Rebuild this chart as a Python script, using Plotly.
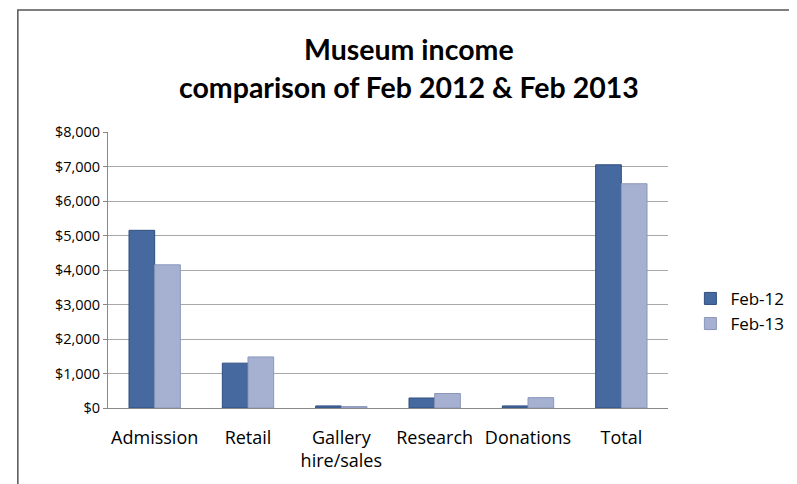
import plotly.graph_objects as go

categories = ["Admission", "Retail", "Gallery<br>hire/sales", "Research", "Donations", "Total"]
feb12 = [5150, 1300, 60, 290, 60, 7050]
feb13 = [4150, 1480, 40, 420, 300, 6500]
tick_vals = [0, 1000, 2000, 3000, 4000, 5000, 6000, 7000, 8000]
tick_text = ["$0", "$1,000", "$2,000", "$3,000", "$4,000", "$5,000", "$6,000", "$7,000", "$8,000"]
title_lines = ["Museum income", "comparison of Feb 2012 & Feb 2013"]

FONT = "Lato, Open Sans, sans-serif"

fig = go.Figure()
fig.add_trace(go.Bar(name="Feb-12", x=categories, y=feb12,
                     marker=dict(color="#46699f", line=dict(color="#2f4f80", width=1))))
fig.add_trace(go.Bar(name="Feb-13", x=categories, y=feb13,
                     marker=dict(color="#a6b1d2", line=dict(color="#8a96bb", width=1))))

fig.update_layout(
    width=797, height=484,
    paper_bgcolor="white", plot_bgcolor="white",
    margin=dict(l=100, r=137, t=124, b=84),
    barmode="group", bargap=0.45, bargroupgap=0.0,
    font=dict(family=FONT, size=15, color="#000000"),
    legend=dict(x=1.04, y=0.35, xanchor="left", yanchor="middle",
                font=dict(family="Open Sans, sans-serif", size=17, color="#000000"),
                itemwidth=30, tracegroupgap=0),
    showlegend=True,
)
fig.add_annotation(text="<b>%s</b>" % title_lines[0], xref="paper", yref="paper",
                   x=0.538, y=1.30, xanchor="center", yanchor="middle", showarrow=False,
                   font=dict(family=FONT, size=28.5, color="#000000"))
fig.add_annotation(text="<b>%s</b>" % title_lines[1], xref="paper", yref="paper",
                   x=0.538, y=1.162, xanchor="center", yanchor="middle", showarrow=False,
                   font=dict(family=FONT, size=28.5, color="#000000"))

fig.update_yaxes(range=[0, 8000], tickvals=tick_vals, ticktext=tick_text,
                 showgrid=True, gridcolor="#a8a8a8", gridwidth=1,
                 showline=True, linecolor="#888888", ticks="outside", ticklen=4,
                 tickcolor="#888888", zeroline=False,
                 tickfont=dict(family="Open Sans, sans-serif", size=14.5, color="#000000"))
fig.update_xaxes(showline=True, linecolor="#888888", ticks="",
                 ticklabelstandoff=13,
                 tickfont=dict(family="Open Sans, sans-serif", size=18, color="#000000"))

fig.add_shape(type="rect", xref="paper", yref="paper",
              x0=-0.161, x1=1.3, y0=-0.5, y1=1.442,
              line=dict(color="#555555", width=1.5), fillcolor="rgba(0,0,0,0)")

fig.write_html("out.html")
